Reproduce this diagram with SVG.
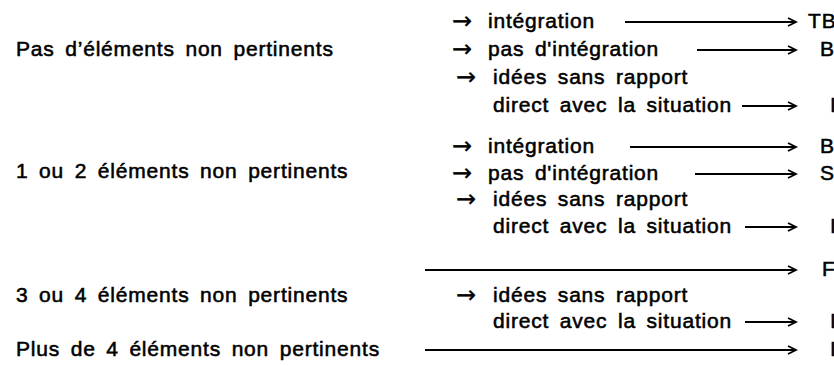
<svg xmlns="http://www.w3.org/2000/svg" width="834" height="366" viewBox="0 0 834 366">
<defs>
<style>
text{font-family:"Liberation Sans",Arial,sans-serif;font-size:21px;font-weight:normal;fill:#000;stroke:#000;stroke-width:0.55px;letter-spacing:0.8px;word-spacing:4px}
text.ar{font-family:"DejaVu Sans",sans-serif;font-size:24px;stroke-width:0.3px;letter-spacing:0;word-spacing:0}
.c line{stroke:#000;stroke-width:2;marker-end:url(#ah)}
</style>
<marker id="ah" markerUnits="userSpaceOnUse" markerWidth="12" markerHeight="12" refX="9" refY="5" orient="auto" viewBox="0 0 12 10">
<path d="M1,1 L9,5 L1,9" fill="none" stroke="#000" stroke-width="1.8"/>
</marker>
</defs>
<rect width="834" height="366" fill="#fff"/>
<g id="cat1">
<text x="16" y="56">Pas d’éléments non pertinents</text>
<text class="ar" x="452" y="29">→</text>
<text x="488" y="28">intégration</text>
<text class="ar" x="452" y="57">→</text>
<text x="488" y="56">pas d'intégration</text>
<text class="ar" x="456" y="85">→</text>
<text x="493" y="84">idées sans rapport</text>
<text x="493" y="112">direct avec la situation</text>
<text x="808" y="28">TB</text>
<text x="820" y="56">B</text>
<text x="830" y="112">I</text>
</g>
<g id="cat2">
<text x="16" y="178">1 ou 2 éléments non pertinents</text>
<text class="ar" x="452" y="154">→</text>
<text x="488" y="153">intégration</text>
<text class="ar" x="452" y="181">→</text>
<text x="488" y="180">pas d'intégration</text>
<text class="ar" x="456" y="207">→</text>
<text x="493" y="206">idées sans rapport</text>
<text x="493" y="233">direct avec la situation</text>
<text x="820" y="153">B</text>
<text x="820" y="180">S</text>
<text x="830" y="233">I</text>
</g>
<g id="cat3">
<text x="822" y="276">F</text>
<text x="16" y="302">3 ou 4 éléments non pertinents</text>
<text class="ar" x="456" y="303">→</text>
<text x="493" y="302">idées sans rapport</text>
<text x="493" y="328">direct avec la situation</text>
<text x="830" y="328">I</text>
</g>
<g id="cat4">
<text x="16" y="356">Plus de 4 éléments non pertinents</text>
<text x="830" y="356">I</text>
</g>
<g class="c" id="connectors">
<line x1="625" y1="22" x2="796" y2="22"/>
<line x1="697" y1="50" x2="796" y2="50"/>
<line x1="742" y1="106" x2="796" y2="106"/>
<line x1="630" y1="147" x2="796" y2="147"/>
<line x1="695" y1="174" x2="796" y2="174"/>
<line x1="745" y1="227" x2="796" y2="227"/>
<line x1="425" y1="270" x2="796" y2="270"/>
<line x1="745" y1="322" x2="796" y2="322"/>
<line x1="425" y1="350" x2="796" y2="350"/>
</g>
</svg>
